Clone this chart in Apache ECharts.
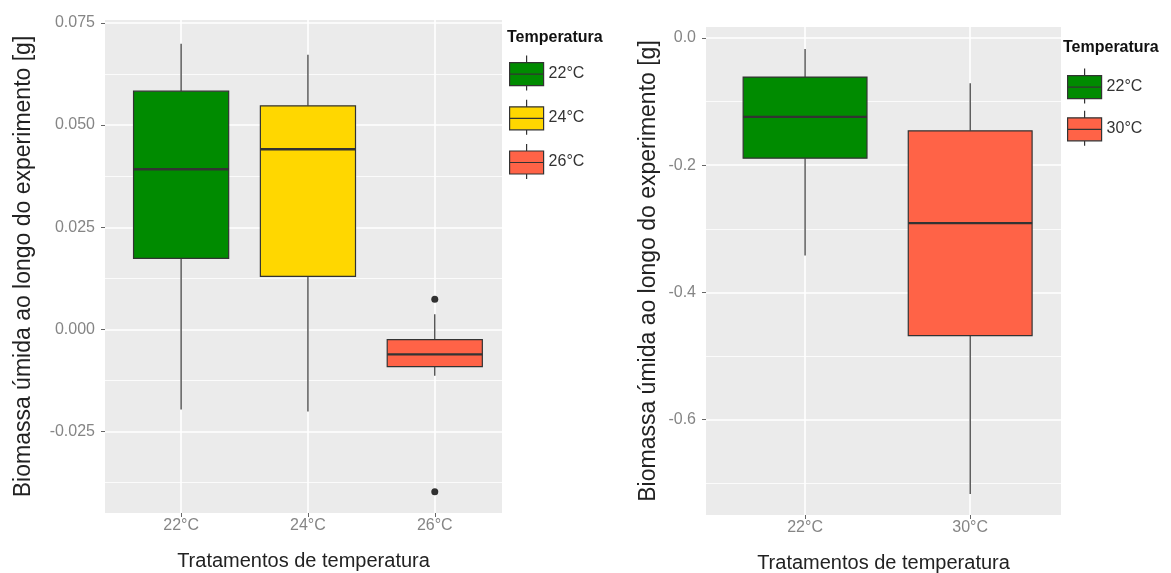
<!DOCTYPE html>
<html>
<head>
<meta charset="utf-8">
<title>Biomassa úmida</title>
<script src="https://cdn.jsdelivr.net/npm/echarts@6/dist/echarts.min.js"></script>
<style>
  html, body { margin: 0; padding: 0; background: #fff; }
  #chart { width: 1171px; height: 573px; }
</style>
</head>
<body>
<div id="chart"></div>
<script>
// painel esquerdo: 22, 24, 26 °C
var leftCats = ['22°C', '24°C', '26°C'];
var leftMin = [-0.0196, -0.0201, -0.0113];
var leftQ1 = [0.0174, 0.0130, -0.0091];
var leftMed = [0.0392, 0.0441, -0.0061];
var leftQ3 = [0.0583, 0.0547, -0.0025];
var leftMax = [0.0699, 0.0672, 0.0037];
var leftOutCat = ['26°C', '26°C'];
var leftOutVal = [0.0074, -0.0397];
var leftTicks = [-0.025, 0, 0.025, 0.05, 0.075];
var leftMinor = [-0.0375, -0.0125, 0.0125, 0.0375, 0.0625];

// painel direito: 22, 30 °C
var rightCats = ['22°C', '30°C'];
var rightMin = [-0.342, -0.717];
var rightQ1 = [-0.189, -0.468];
var rightMed = [-0.124, -0.291];
var rightQ3 = [-0.0614, -0.146];
var rightMax = [-0.0173, -0.071];
var rightTicks = [-0.6, -0.4, -0.2, 0.0];
var rightMinor = [-0.7, -0.5, -0.3, -0.1];

var colors = { '22°C': '#008B00', '24°C': '#FFD700', '26°C': '#FF6347', '30°C': '#FF6347' };
var keyIcon = 'path://M0,7 L34,7 L34,30 L0,30 Z M0,18.5 L34,18.5 M17,0 L17,7 M17,30 L17,35';
var labelGrey = '#858585';
var font = 'Liberation Sans';

function renderBox(params, api) {
    var x = api.value(0);
    var pMin = api.coord([x, api.value(1)]);
    var pQ1 = api.coord([x, api.value(2)]);
    var pMed = api.coord([x, api.value(3)]);
    var pQ3 = api.coord([x, api.value(4)]);
    var pMax = api.coord([x, api.value(5)]);
    var half = api.size([0.75, 0])[0] / 2;
    var cx = pMin[0];
    return {
        type: 'group',
        children: [
            { type: 'line', shape: { x1: cx, y1: pMax[1], x2: cx, y2: pQ3[1] }, style: { stroke: '#333', lineWidth: 1.2 } },
            { type: 'line', shape: { x1: cx, y1: pQ1[1], x2: cx, y2: pMin[1] }, style: { stroke: '#333', lineWidth: 1.2 } },
            { type: 'rect', shape: { x: cx - half, y: pQ3[1], width: half * 2, height: pQ1[1] - pQ3[1] },
              style: { fill: api.visual('color'), stroke: '#333', lineWidth: 1.2 } },
            { type: 'line', shape: { x1: cx - half, y1: pMed[1], x2: cx + half, y2: pMed[1] }, style: { stroke: '#333', lineWidth: 2.4 } }
        ]
    };
}

function boxSeries(cats, mins, q1s, meds, q3s, maxs, gridIdx, yIdx) {
    return cats.map(function (c, i) {
        return {
            name: c,
            type: 'custom',
            xAxisIndex: gridIdx,
            yAxisIndex: yIdx,
            itemStyle: { color: colors[c] },
            encode: { x: 0, y: [1, 2, 3, 4, 5] },
            renderItem: renderBox,
            data: [[i + 1, mins[i], q1s[i], meds[i], q3s[i], maxs[i]]],
            z: 3
        };
    });
}

function xAxisFor(gridIdx, cats, max) {
    var pos = cats.map(function (c, i) { return i + 1; });
    return {
        type: 'value', gridIndex: gridIdx, min: 0.4, max: max, position: 'bottom',
        name: 'Tratamentos de temperatura', nameLocation: 'middle', nameGap: 38,
        nameTextStyle: { fontSize: 20, color: '#222', fontFamily: font },
        axisLine: { show: false, onZero: false },
        axisTick: { show: true, length: 4, customValues: pos, lineStyle: { color: '#666' } },
        axisLabel: { customValues: pos, margin: 5, fontSize: 16, color: labelGrey, fontFamily: font,
            formatter: function (v) { return cats[Math.round(v) - 1]; } },
        splitLine: { show: true, lineStyle: { color: '#fff', width: 1.6 } }
    };
}

function yAxisFor(gridIdx, min, max, ticks, digits, gap) {
    return {
        type: 'value', gridIndex: gridIdx, min: min, max: max, position: 'left',
        name: 'Biomassa úmida ao longo do experimento [g]', nameLocation: 'middle', nameGap: gap,
        nameTextStyle: { fontSize: 23, color: '#222', fontFamily: font },
        axisLine: { show: false, onZero: false },
        axisTick: { show: true, length: 4, customValues: ticks, lineStyle: { color: '#666' } },
        axisLabel: { customValues: ticks, margin: 10, fontSize: 16, color: labelGrey, fontFamily: font,
            formatter: function (v) { return v.toFixed(digits); } },
        splitLine: { show: true, lineStyle: { color: '#fff', width: 1.6 } }
    };
}

function minorAxisFor(gridIdx, min, max, ticks) {
    return {
        type: 'value', gridIndex: gridIdx, min: min, max: max, position: 'left',
        axisLine: { show: false, onZero: false },
        axisTick: { show: false, customValues: ticks },
        axisLabel: { show: false },
        splitLine: { show: true, lineStyle: { color: '#fff', width: 0.8 } }
    };
}

var titleStyle = { fontSize: 16, fontWeight: 'bold', color: '#111', fontFamily: font };
var legendText = { fontSize: 16, color: '#333', fontFamily: font };

var option = {
    animation: false,
    backgroundColor: '#fff',
    textStyle: { fontFamily: font },
    title: [
        { text: 'Temperatura', left: 507, top: 30, padding: 0, textStyle: titleStyle },
        { text: 'Temperatura', left: 1063, top: 40, padding: 0, textStyle: titleStyle }
    ],
    grid: [
        { left: 105, right: 669, top: 20, bottom: 60, show: true, backgroundColor: '#EBEBEB', borderWidth: 0,
          outerBoundsMode: 'none', containLabel: false },
        { left: 706, right: 110, top: 27, bottom: 58, show: true, backgroundColor: '#EBEBEB', borderWidth: 0,
          outerBoundsMode: 'none', containLabel: false }
    ],
    legend: [
        { data: leftCats.map(function (c) { return { name: c, icon: keyIcon }; }),
          orient: 'vertical', left: 509, top: 55, padding: 0, itemWidth: 34, itemHeight: 35, itemGap: 8,
          itemStyle: { borderColor: '#333', borderWidth: 1.2 }, selectedMode: false, textStyle: legendText },
        { data: ['22°C', '30°C'].map(function (c) { return { name: c, icon: keyIcon }; }),
          orient: 'vertical', left: 1067, top: 68, padding: 0, itemWidth: 34, itemHeight: 35, itemGap: 6,
          itemStyle: { borderColor: '#333', borderWidth: 1.2 }, selectedMode: false, textStyle: legendText }
    ],
    xAxis: [
        xAxisFor(0, leftCats, 3.53),
        xAxisFor(1, rightCats, 2.55)
    ],
    yAxis: [
        minorAxisFor(0, -0.0449, 0.0757, leftMinor),
        yAxisFor(0, -0.0449, 0.0757, leftTicks, 3, 70),
        minorAxisFor(1, -0.75, 0.0173, rightMinor),
        yAxisFor(1, -0.75, 0.0173, rightTicks, 1, 46)
    ],
    series: [].concat(
        boxSeries(leftCats, leftMin, leftQ1, leftMed, leftQ3, leftMax, 0, 1),
        boxSeries(rightCats, rightMin, rightQ1, rightMed, rightQ3, rightMax, 1, 3),
        [{
            name: 'outliers',
            type: 'scatter',
            xAxisIndex: 0,
            yAxisIndex: 1,
            symbolSize: 7,
            itemStyle: { color: '#000' },
            data: leftOutCat.map(function (c, i) { return [leftCats.indexOf(c) + 1, leftOutVal[i]]; }),
            z: 4
        }]
    )
};

var myChart = echarts.init(document.getElementById('chart'));
myChart.setOption(option);
</script>
</body>
</html>
